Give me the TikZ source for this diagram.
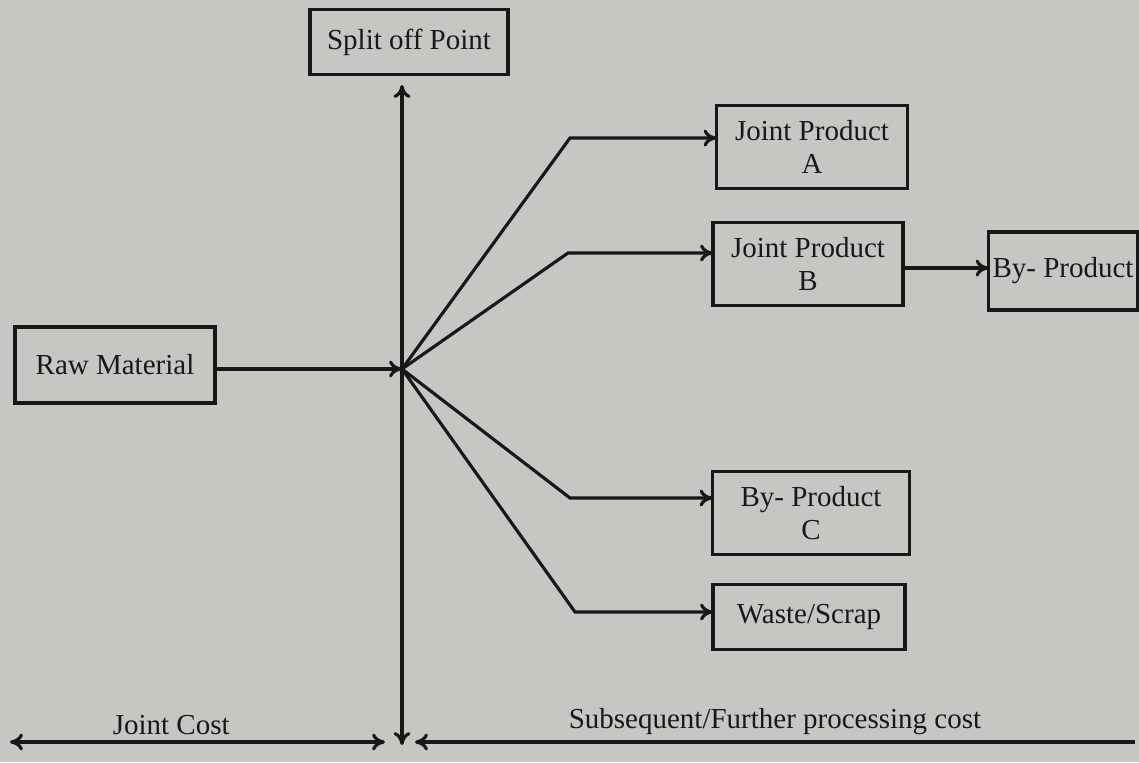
\documentclass[tikz,border=0pt]{standalone}
\usepackage{fontspec}
\setmainfont{Liberation Serif}
\usepackage{tikz}
\usepackage{tkz-graph}
\usetikzlibrary{shapes,backgrounds,arrows.meta}

\definecolor{paper}{RGB}{198,198,195}
\definecolor{ink}{RGB}{24,24,24}

\tikzset{flow/.style={draw=ink, line width=1.8pt, >={To[length=2.6mm,width=3.4mm]}},
         costlabel/.style={text=ink, font=\fontsize{16.5}{19}\selectfont}}

\begin{document}
\begin{tikzpicture}[line width=1.8pt]
                \fill[paper] (0,0) rectangle (22.78,-15.24);
                \useasboundingbox (0,0) rectangle (22.78,-15.24);
                \GraphInit[vstyle=Normal]
                \tikzset{VertexStyle/.style={draw=ink, rectangle, fill=none, text=ink,
                    align=center, inner sep=0pt, line width=1.8pt,
                    font=\fontsize{16.5}{19}\selectfont}}
                \tikzset{EdgeStyle/.style={flow, ->}}
                \Vertex[x=8.18,y=-0.84,L={Split off Point},style={minimum width=3.96cm, minimum height=1.3cm}]{SP}
                \Vertex[x=2.30,y=-7.30,L={Raw Material},style={minimum width=4.0cm, minimum height=1.52cm}]{RM}
                \Vertex[x=16.24,y=-2.94,L={Joint Product\\A},style={minimum width=3.82cm, minimum height=1.66cm}]{JA}
                \Vertex[x=16.16,y=-5.28,L={Joint Product\\B},style={minimum width=3.8cm, minimum height=1.66cm}]{JB}
                \Vertex[x=21.26,y=-5.42,L={By- Product},style={minimum width=2.98cm, minimum height=1.56cm}]{BP}
                \Vertex[x=16.22,y=-10.26,L={By- Product\\C},style={minimum width=3.94cm, minimum height=1.66cm}]{BC}
                \Vertex[x=16.18,y=-12.34,L={Waste/Scrap},style={minimum width=3.84cm, minimum height=1.3cm}]{WS}
                \coordinate (hub) at (8.04,-7.38);
                \coordinate (vt) at (8.04,-1.70);
                \coordinate (vb) at (8.04,-14.90);
                \coordinate (ea) at (11.40,-2.76);
                \coordinate (eb) at (11.36,-5.06);
                \coordinate (ec) at (11.40,-9.96);
                \coordinate (ew) at (11.50,-12.24);
                \coordinate (bb) at (18.06,-5.36);
                \coordinate (jl) at (0.20,-14.84);
                \coordinate (jr) at (7.70,-14.84);
                \coordinate (sl) at (8.30,-14.84);
                \coordinate (sr) at (22.70,-14.84);
                \draw[flow, <->] (vb) -- (vt);
                \draw[flow, ->] (RM.east |- hub) -- (hub);
                \draw[flow, ->] (hub) -- (ea) -- (ea -| JA.west);
                \draw[flow, ->] (hub) -- (eb) -- (eb -| JB.west);
                \draw[flow, ->] (hub) -- (ec) -- (ec -| BC.west);
                \draw[flow, ->] (hub) -- (ew) -- (ew -| WS.west);
                \draw[flow, ->] (bb) -- (bb -| BP.west);
                \draw[flow, <->] (jl) -- node[above, pos=0.43, costlabel]{Joint Cost} (jr);
                \draw[flow, <-] (sl) -- node[above, costlabel]{Subsequent/Further processing cost} (sr);
            \end{tikzpicture}
\end{document}
